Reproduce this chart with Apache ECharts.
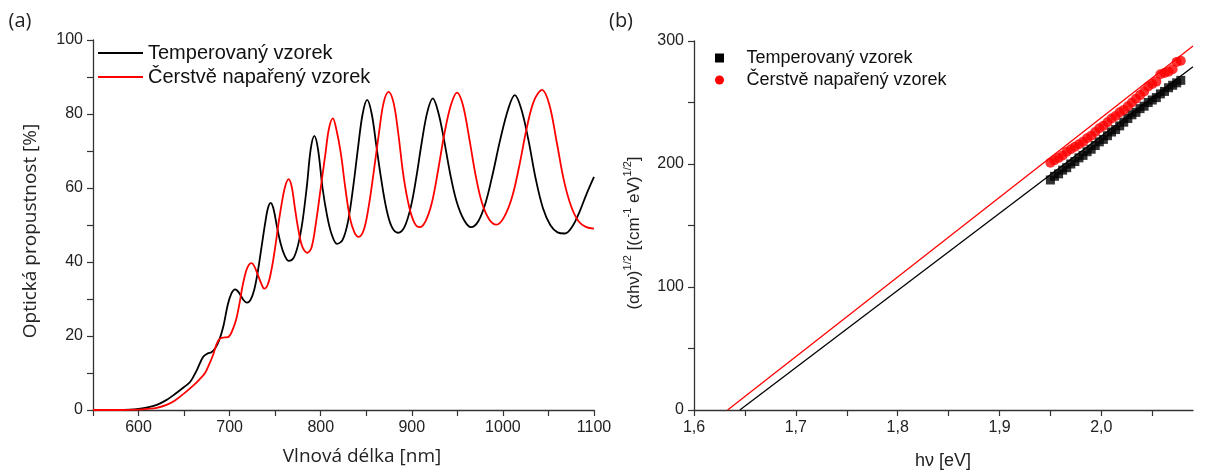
<!DOCTYPE html>
<html><head><meta charset="utf-8">
<script src="https://cdn.jsdelivr.net/npm/echarts@6/dist/echarts.min.js"></script>
<style>html,body{margin:0;padding:0;background:#fff}#c{width:1206px;height:470px}</style>
</head><body><div id="c"></div>
<script>
const seriesNames = ['Temperovaný vzorek', 'Čerstvě napařený vzorek'];

// panel (a) axes
const wlLabelTicks = [600, 700, 800, 900, 1000, 1100];
const wlTickMarks = [550, 600, 650, 700, 750, 800, 850, 900, 950, 1000, 1050, 1100];
const tLabelTicks = [0, 20, 40, 60, 80, 100];
const tTickMarks = [0, 10, 20, 30, 40, 50, 60, 70, 80, 90, 100];
// panel (b) axes
const evLabelTicks = [1.6, 1.7, 1.8, 1.9, 2.0];
const evTickMarks = [1.6, 1.65, 1.7, 1.75, 1.8, 1.85, 1.9, 1.95, 2.0, 2.05];
const absLabelTicks = [0, 100, 200, 300];
const absTickMarks = [0, 50, 100, 150, 200, 250, 300];

// panel (a) transmission spectra
const temperWl = [575,590,600,610,620,630,640,650,657,664,671,676,680,684,688,693,698,702,706,710,715,719,723,727,731,735,739,742,745,748,752,756,760,765,770,775,780,785,789,793,797,802,807,812,818,824,830,836,841,846,851,856,861,866,872,878,885,892,899,905,911,917,923,929,935,942,949,957,965,973,981,989,997,1006,1013,1020,1028,1036,1044,1052,1060,1068,1076,1084,1092,1100];
const temperT = [0,0.1,0.3,0.7,1.4,2.6,4.3,6.2,7.7,10.8,14.4,15.3,15.6,16.6,18.5,22.5,28.5,31.5,32.6,31.8,29.8,29.0,29.8,32.5,37.5,44,50.5,54.5,56.0,54.5,49.5,45,42,40.3,41,44.5,51,61,70.5,74.1,70.5,60,52.5,47.5,44.9,46,51,61,71,80,83.8,80,71.5,63,54.5,49.5,47.9,49.5,55,63,72.5,80.5,84.2,80.5,73.5,64,56.5,51.5,49.4,51,56,64,73,81.5,85.1,81.5,73,62.5,54.5,50,48,47.7,49.5,53.5,58.5,63];
const freshWl = [550,580,600,610,620,630,640,650,660,667,673,678,682,686,690,695,699,703,707,711,714,718,721,724,727,731,735,738,742,746,750,754,758,761,764.6,768,772,776,780,785.5,790,795,800,805,809,813.3,817,822,827,832,837,841.6,847,852,858,864,869,874.5,880,885,891,897,903,908.6,915,922,929,936,943,949.6,956,963,970,977,985,992.9,1001,1010,1018,1026,1034,1043,1051,1059,1067,1075,1083,1091,1100];
const freshT = [0,0,0.1,0.3,0.6,1.3,2.6,4.5,6.6,8.3,10,12.6,15,18,19.4,19.6,19.8,21.5,24.3,29,33.3,37.5,39.2,39.7,38.9,36.5,34,32.8,34,38,44,51,57,60.5,62.4,60.5,54,48,44,42.5,44,51,60,69,76,78.8,76,69.5,60,52,48,46.8,48.5,54,64,75,83,86,83,75,63,55,50.5,49.4,51,56,65,75,82.5,85.8,82.5,73.5,63.5,56,51.5,50.1,52,57.5,66,76,83.5,86.5,82.5,72.5,62,55,51,49.5,49];

// panel (b) Tauc plot points
const temperEv = [1.950,1.954,1.958,1.962,1.966,1.970,1.974,1.978,1.982,1.986,1.990,1.994,1.998,2.002,2.006,2.010,2.014,2.018,2.022,2.026,2.030,2.034,2.038,2.042,2.046,2.050,2.054,2.058,2.062,2.066,2.070,2.074,2.078];
const temperAbs = [187,190,192,195,197,200,202,205,207,210,212,215,218,220,223,226,228,231,234,237,240,242,245,247,250,252,254,257,259,262,264,266,268];
const freshEv = [1.950,1.954,1.958,1.962,1.966,1.970,1.974,1.978,1.982,1.986,1.990,1.994,1.998,2.002,2.006,2.010,2.014,2.018,2.022,2.026,2.030,2.034,2.038,2.042,2.046,2.050,2.054,2.058,2.062,2.066,2.070,2.074,2.078];
const freshAbs = [201,203,205,207,210,212,214,216,218,221,223,226,229,231,234,237,239,242,244,247,250,253,256,259,263,265,267,273,274,275,277,283,284];
// linear fits
const temperFitEv = [1.645, 2.09];
const temperFitAbs = [0, 279];
const freshFitEv = [1.633, 2.09];
const freshFitAbs = [0, 296];

const zip = (xs, ys) => xs.map((x, i) => [x, ys[i]]);
const AX = '#333';
const LBL = '#222';
const SANS = 'Liberation Sans, Arial, sans-serif';
const OPEN = 'Open Sans, sans-serif';

function axisBase(min, max, labelVals, tickVals, fmt) {
  return {
    type: 'value', min: min, max: max,
    axisLine: {show: true, onZero: false, lineStyle: {color: AX, width: 1.3}},
    axisTick: {show: true, inside: false, length: 6, customValues: tickVals, lineStyle: {color: AX, width: 1.2}},
    axisLabel: {customValues: labelVals, fontSize: 16, fontFamily: SANS, color: LBL, margin: 10, formatter: fmt},
    splitLine: {show: false}
  };
}

const chart = echarts.init(document.getElementById('c'), null, {renderer: 'canvas'});
const option = {
  animation: false,
  backgroundColor: '#fff',
  grid: [
    {left: 93, top: 40, width: 501, height: 370},
    {left: 694, top: 41, width: 499, height: 369}
  ],
  xAxis: [
    Object.assign(axisBase(550, 1100, wlLabelTicks, wlTickMarks, v => String(v)), {gridIndex: 0}),
    Object.assign(axisBase(1.6, 2.09, evLabelTicks, evTickMarks, v => v.toFixed(1).replace('.', ',')), {gridIndex: 1})
  ],
  yAxis: [
    Object.assign(axisBase(0, 100, tLabelTicks, tTickMarks, v => String(v)), {gridIndex: 0}),
    Object.assign(axisBase(0, 300, absLabelTicks, absTickMarks, v => String(v)), {gridIndex: 1})
  ],
  legend: [
    {
      orient: 'vertical', left: 93, top: 38, itemWidth: 45, itemHeight: 2, itemGap: 4,
      icon: 'rect', selectedMode: false,
      textStyle: {fontSize: 20, fontFamily: SANS, color: '#111'},
      data: seriesNames
    },
    {
      orient: 'vertical', left: 710, top: 44, itemWidth: 44, itemHeight: 9, itemGap: 4,
      selectedMode: false,
      textStyle: {fontSize: 18, fontFamily: SANS, color: '#111'},
      data: [
        {name: seriesNames[0], icon: 'path://M0,0H10V10H0Z', itemStyle: {color: '#000'}},
        {name: seriesNames[1], icon: 'circle', itemStyle: {color: '#ff0000'}}
      ]
    }
  ],
  series: [
    {name: seriesNames[0], type: 'line', xAxisIndex: 0, yAxisIndex: 0, data: zip(temperWl, temperT),
     symbol: 'none', smooth: 0.35, color: '#000', lineStyle: {color: '#000', width: 1.8}},
    {name: seriesNames[1], type: 'line', xAxisIndex: 0, yAxisIndex: 0, data: zip(freshWl, freshT),
     symbol: 'none', smooth: 0.35, color: '#ff0000', lineStyle: {color: '#ff0000', width: 1.8}},
    {name: 'fit-t', type: 'line', xAxisIndex: 1, yAxisIndex: 1, data: zip(temperFitEv, temperFitAbs),
     symbol: 'none', color: '#000', lineStyle: {color: '#000', width: 1.3}, z: 1},
    {name: 'fit-f', type: 'line', xAxisIndex: 1, yAxisIndex: 1, data: zip(freshFitEv, freshFitAbs),
     symbol: 'none', color: '#ff0000', lineStyle: {color: '#ff0000', width: 1.3}, z: 1},
    {name: seriesNames[0], type: 'scatter', xAxisIndex: 1, yAxisIndex: 1, data: zip(temperEv, temperAbs),
     symbol: 'rect', symbolSize: 9, itemStyle: {color: '#000'}, z: 3},
    {name: seriesNames[1], type: 'scatter', xAxisIndex: 1, yAxisIndex: 1, data: zip(freshEv, freshAbs),
     symbol: 'circle', symbolSize: 10, itemStyle: {color: '#ff0000'}, z: 3}
  ],
  graphic: [
    {type: 'text', x: 20, y: 21, style: {text: '(a)', fontSize: 20, fontFamily: OPEN, fill: '#222', align: 'center', verticalAlign: 'middle'}},
    {type: 'text', x: 621, y: 21, style: {text: '(b)', fontSize: 20, fontFamily: OPEN, fill: '#222', align: 'center', verticalAlign: 'middle'}},
    {type: 'text', x: 31, y: 231, rotation: Math.PI / 2, style: {text: 'Optická propustnost [%]', fontSize: 19, fontFamily: OPEN, fill: '#222', align: 'center', verticalAlign: 'middle'}},
    {type: 'text', x: 362, y: 457, style: {text: 'Vlnová délka [nm]', fontSize: 19, fontFamily: OPEN, fill: '#222', align: 'center', verticalAlign: 'middle'}},
    {type: 'text', x: 943, y: 461, style: {text: 'hν [eV]', fontSize: 18, fontFamily: SANS, fill: '#222', align: 'center', verticalAlign: 'middle'}},
    {type: 'text', x: 634, y: 233, rotation: Math.PI / 2, style: {
      text: '{m|(αhν)}{s|1/2}{m| [(cm}{s|-1}{m| eV)}{s|1/2}{m|]}',
      fill: '#222', fontSize: 17, fontFamily: SANS, align: 'center', verticalAlign: 'middle',
      rich: {
        m: {fontSize: 17, fontFamily: SANS, lineHeight: 24, fill: '#222'},
        s: {fontSize: 11, fontFamily: SANS, lineHeight: 12, verticalAlign: 'top', fill: '#222'}
      }
    }}
  ]
};
chart.setOption(option);
</script>
</body></html>
